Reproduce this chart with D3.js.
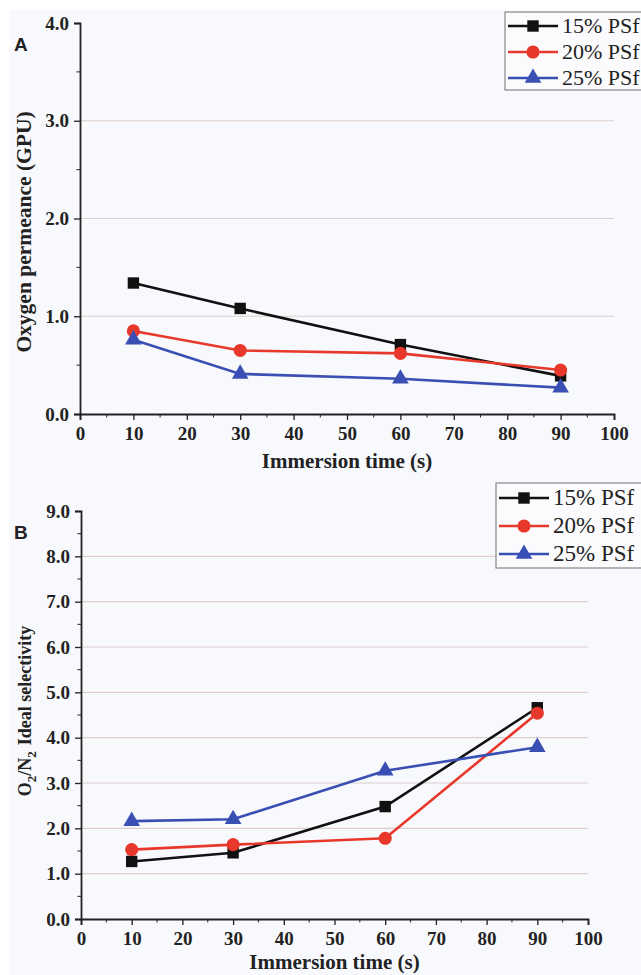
<!DOCTYPE html>
<html>
<head>
<meta charset="utf-8">
<script src="https://cdn.jsdelivr.net/npm/d3@7"></script>
<style>
  body { margin: 0; background: #fff; }
</style>
</head>
<body>
<div id="chart"></div>
<script>
const times = [10, 30, 60, 90];
const seriesNames = ["15% PSf", "20% PSf", "25% PSf"];
const seriesColors = ["#111111", "#e8382b", "#3a4fb4"];
const seriesShapes = ["square", "circle", "triangle"];

// panel A: oxygen permeance (GPU)
const permeance15 = [1.34, 1.08, 0.71, 0.39];
const permeance20 = [0.85, 0.65, 0.62, 0.45];
const permeance25 = [0.76, 0.41, 0.36, 0.27];

// panel B: O2/N2 ideal selectivity
const selectivity15 = [1.27, 1.46, 2.48, 4.66];
const selectivity20 = [1.53, 1.64, 1.78, 4.54];
const selectivity25 = [2.16, 2.20, 3.27, 3.79];

const xTicks = [0, 10, 20, 30, 40, 50, 60, 70, 80, 90, 100];
const yTicksA = [0, 1, 2, 3, 4];
const yTicksB = [0, 1, 2, 3, 4, 5, 6, 7, 8, 9];

const serif = "'Liberation Serif', 'Times New Roman', serif";
const W = 641, H = 975;
const svg = d3.select("#chart").append("svg")
    .attr("width", W)
    .attr("height", H)
    .style("font-family", serif);

svg.append("rect")
    .attr("x", 10).attr("y", 10)
    .attr("width", W - 10).attr("height", H - 10)
    .attr("fill", "#f8f9fc");

function symbolFor(shape) {
  if (shape === "square") return d3.symbol().type(d3.symbolSquare).size(130);
  if (shape === "circle") return d3.symbol().type(d3.symbolCircle).size(135);
  return d3.symbol().type(d3.symbolTriangle).size(120);
}

function drawPanel(cfg) {
  const x = d3.scaleLinear().domain([0, 100]).range([cfg.left, cfg.right]);
  const y = d3.scaleLinear().domain([0, cfg.yMax]).range([cfg.bottom, cfg.top]);
  const g = svg.append("g");

  // grid lines
  g.selectAll(".grid")
      .data(cfg.yTicks.filter(d => d > 0 && d < cfg.yMax))
      .enter().append("line")
      .attr("x1", cfg.left).attr("x2", cfg.right)
      .attr("y1", d => y(d)).attr("y2", d => y(d))
      .attr("stroke", "#dccfcc")
      .attr("stroke-width", 1.2);

  // x axis
  const minorX = d3.range(5, 100, 10);
  const xAxis = g.append("g")
      .attr("transform", `translate(0,${cfg.bottom})`)
      .call(d3.axisBottom(x).tickValues(xTicks).tickSize(6).tickPadding(7).tickFormat(d3.format("d")));
  xAxis.append("g").selectAll("line")
      .data(minorX).enter().append("line")
      .attr("x1", d => x(d)).attr("x2", d => x(d))
      .attr("y1", 0).attr("y2", 3.5)
      .attr("stroke", "#222");

  // y axis
  const minorY = d3.range(0.5, cfg.yMax, 1);
  const yAxis = g.append("g")
      .attr("transform", `translate(${cfg.left},0)`)
      .call(d3.axisLeft(y).tickValues(cfg.yTicks).tickSize(6).tickPadding(5).tickFormat(d3.format(".1f")));
  yAxis.append("g").selectAll("line")
      .data(minorY).enter().append("line")
      .attr("y1", d => y(d)).attr("y2", d => y(d))
      .attr("x1", 0).attr("x2", -3.5)
      .attr("stroke", "#222");

  [xAxis, yAxis].forEach(ax => {
    ax.attr("font-family", null).attr("font-size", null);
    ax.select(".domain").attr("stroke", "#222").attr("stroke-width", 1.8);
    ax.selectAll(".tick line").attr("stroke", "#222").attr("stroke-width", 1.3);
    ax.selectAll("text")
        .attr("fill", "#222")
        .style("font-family", serif)
        .style("font-weight", "bold")
        .style("font-size", "19px");
  });

  // axis titles
  g.append("text")
      .attr("x", (cfg.left + cfg.right) / 2)
      .attr("y", cfg.bottom + cfg.titleGap)
      .attr("text-anchor", "middle")
      .style("font-family", serif)
      .style("font-weight", "bold")
      .style("font-size", "21px")
      .attr("fill", "#222")
      .text("Immersion time (s)");

  const yLab = g.append("text")
      .attr("transform", `translate(31,${cfg.yLabelY}) rotate(-90)`)
      .attr("text-anchor", "middle")
      .style("font-family", serif)
      .style("font-weight", "bold")
      .style("font-size", cfg.yLabelSize + "px")
      .attr("fill", "#222");
  cfg.yLabel(yLab);

  // panel letter
  g.append("text")
      .attr("x", 14).attr("y", cfg.top + 28)
      .style("font-family", "'Liberation Sans', Arial, sans-serif")
      .style("font-weight", "bold")
      .style("font-size", "19px")
      .attr("fill", "#222")
      .text(cfg.letter);

  // series
  const line = d3.line().x(d => x(d.t)).y(d => y(d.v));
  cfg.series.forEach((vals, i) => {
    const pts = times.map((t, j) => ({t: t, v: vals[j]}));
    g.append("path")
        .datum(pts)
        .attr("d", line)
        .attr("fill", "none")
        .attr("stroke", seriesColors[i])
        .attr("stroke-width", 2.6);
    g.selectAll(".pt" + i)
        .data(pts).enter().append("path")
        .attr("d", symbolFor(seriesShapes[i])())
        .attr("transform", d => `translate(${x(d.t)},${y(d.v)})`)
        .attr("fill", seriesColors[i]);
  });

  // legend
  const lg = g.append("g").attr("transform", `translate(${cfg.legend.x},${cfg.legend.y})`);
  lg.append("rect")
      .attr("x", 0).attr("y", 0)
      .attr("width", W - cfg.legend.x + 2).attr("height", cfg.legend.h)
      .attr("fill", "#fbfbfd")
      .attr("stroke", "#888")
      .attr("stroke-width", 1.2);
  seriesNames.forEach((name, i) => {
    const ry = cfg.legend.pad + i * cfg.legend.step;
    lg.append("line")
        .attr("x1", 3).attr("x2", 53)
        .attr("y1", ry).attr("y2", ry)
        .attr("stroke", seriesColors[i])
        .attr("stroke-width", 2.6);
    lg.append("path")
        .attr("d", symbolFor(seriesShapes[i])())
        .attr("transform", `translate(28,${ry})`)
        .attr("fill", seriesColors[i]);
    lg.append("text")
        .attr("x", 57).attr("y", ry + 7)
        .style("font-family", serif)
        .style("font-size", cfg.legend.font + "px")
        .attr("fill", "#222")
        .text(name);
  });
}

drawPanel({
  letter: "A",
  left: 80, right: 614, top: 23, bottom: 414, yMax: 4,
  yTicks: yTicksA, titleGap: 54,
  series: [permeance15, permeance20, permeance25],
  yLabelY: 232, yLabelSize: 21.5,
  yLabel: t => t.text("Oxygen permeance (GPU)"),
  legend: {x: 505, y: 12, h: 78, pad: 14, step: 26, font: 22}
});

drawPanel({
  letter: "B",
  left: 81, right: 588, top: 511, bottom: 919, yMax: 9,
  yTicks: yTicksB, titleGap: 50,
  series: [selectivity15, selectivity20, selectivity25],
  yLabelY: 711, yLabelSize: 18,
  yLabel: t => {
    t.append("tspan").text("O");
    t.append("tspan").attr("dy", 5).style("font-size", "13px").text("2");
    t.append("tspan").attr("dy", -5).text("/N");
    t.append("tspan").attr("dy", 5).style("font-size", "13px").text("2");
    t.append("tspan").attr("dy", -5).attr("dx", 6).text("Ideal selectivity");
  },
  legend: {x: 496, y: 483, h: 85, pad: 15, step: 28, font: 23}
});
</script>
</body>
</html>
